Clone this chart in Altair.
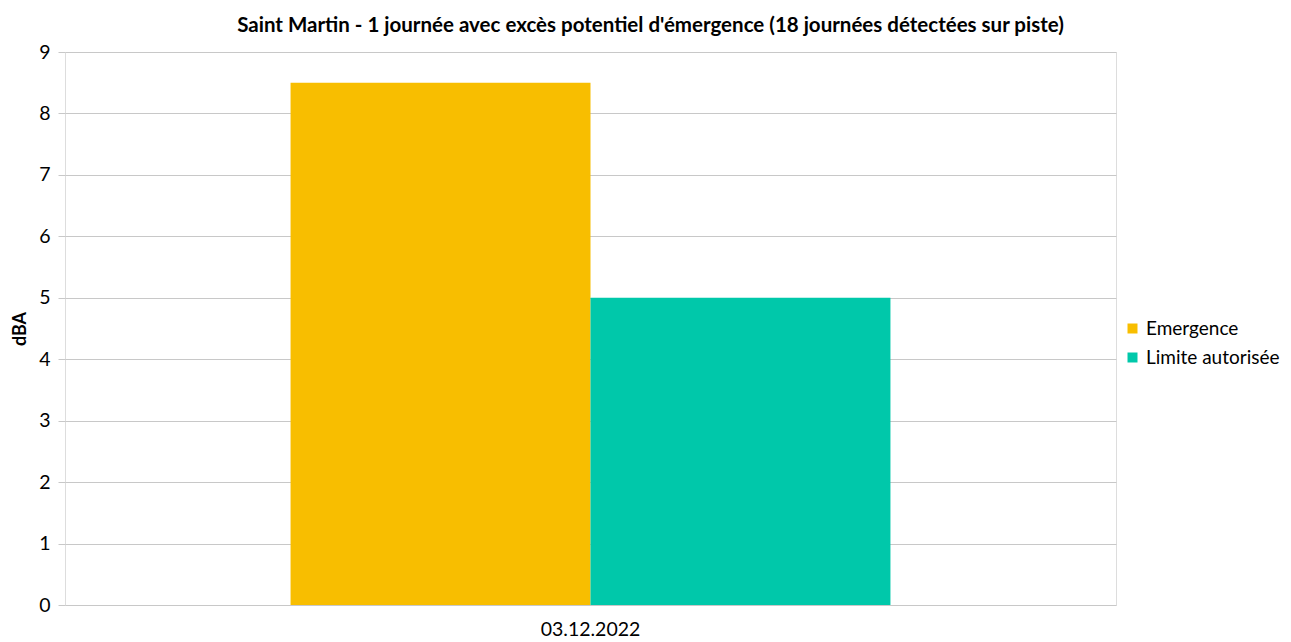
import altair as alt
import pandas as pd

dates = ["03.12.2022"]
series = ["Emergence", "Limite autorisée"]
emergence = [8.5]
limite = [5]
colors = ["#F8BE00", "#00C8AA"]

rows = []
for i, d in enumerate(dates):
    rows.append({"date": d, "serie": series[0], "val": emergence[i]})
    rows.append({"date": d, "serie": series[1], "val": limite[i]})
df = pd.DataFrame(rows)

FONT = "Lato"
W, H = 1051, 553

chart = alt.Chart(df).mark_bar().encode(
    x=alt.X("date:N", title=None,
            scale=alt.Scale(paddingInner=0, paddingOuter=0.376),
            axis=alt.Axis(labelAngle=0, ticks=False, domain=False, labelFontSize=19.5,
                          labelFont=FONT, labelColor="#000000", labelPadding=15)),
    xOffset=alt.XOffset("serie:N", sort=series, scale=alt.Scale(paddingInner=0, paddingOuter=0)),
    y=alt.Y("val:Q", title="dBA",
            scale=alt.Scale(domain=[0, 9], nice=False),
            axis=alt.Axis(values=list(range(10)), tickCount=10, format="d", domain=False,
                          gridColor="#C8C8C8", tickColor="#C8C8C8", tickSize=7,
                          labelFontSize=19.5, labelFont=FONT, labelColor="#000000",
                          labelPadding=8,
                          titleFont=FONT, titleFontSize=18, titleFontWeight="bold",
                          titleColor="#000000", titleX=-45, titleY=H / 2,
                          titleAlign="center", titleBaseline="middle", titleAngle=-90)),
    color=alt.Color("serie:N", sort=series,
                    scale=alt.Scale(domain=series, range=colors),
                    legend=alt.Legend(title=None, orient="none", legendX=1058, legendY=267,
                                      symbolType="square", symbolSize=100,
                                      symbolStrokeWidth=0, labelFontSize=19, labelFont=FONT,
                                      labelColor="#000000", rowPadding=9, labelOffset=4)),
).properties(
    width=W, height=H,
    title=alt.Title("Saint Martin - 1 journée avec excès potentiel d'émergence (18 journées détectées sur piste)",
                    font=FONT, fontSize=20.5, fontWeight="bold", color="#000000",
                    anchor="middle", frame="group", dx=60, offset=6),
    autosize=alt.AutoSizeParams(type="none"),
    padding={"left": 57, "top": 44, "right": 167, "bottom": 34},
).configure_view(stroke="#C8C8C8", strokeWidth=1).configure(background="white")

chart.save("out.html", embed_options={"renderer": "svg", "actions": False})
